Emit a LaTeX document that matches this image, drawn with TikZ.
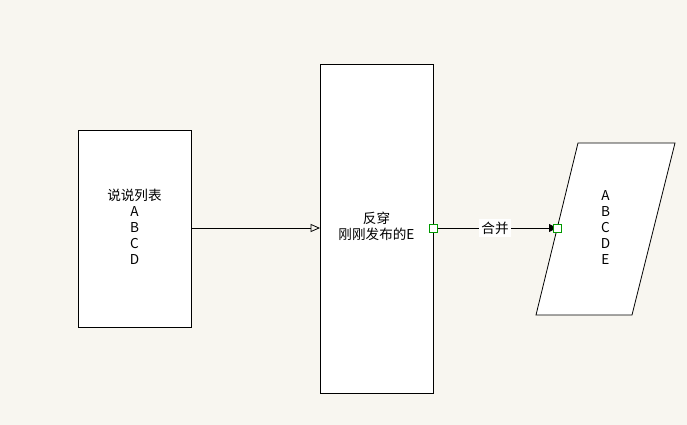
\documentclass[tikz,border=0pt]{standalone}
\usepackage{fontspec}
\setmainfont{Noto Sans CJK SC}
\usetikzlibrary{arrows.meta}
\begin{document}
\begin{tikzpicture}[x=0.75pt,y=-0.75pt,
  box/.style={draw,fill=white,line width=0.6pt},
  txt/.style={font=\fontsize{10.2}{12}\selectfont,align=center,inner sep=1pt},
  conn/.style={line width=0.6pt},
  handle/.style={draw=green!60!black,fill=white,line width=0.6pt,minimum size=6pt,inner sep=0pt}]
\fill[fill={rgb,255:red,248;green,246;blue,240}] (0,0) rectangle (687,425);
\useasboundingbox (0,0) rectangle (687,425);
\node[box,minimum width=84.75pt,minimum height=147.75pt] (a) at (134.5,228.5) {};
\node[txt] at (134.5,227) {说说列表\\A\\B\\C\\D};
\node[box,minimum width=84.75pt,minimum height=246.75pt] (b) at (376.5,228.5) {};
\node[txt] at (376.5,226) {反穿\\刚刚发布的E};
\draw[box] (578,143) coordinate (p1) -- (675,143) -- (632,315) -- (536,315) -- cycle;
\coordinate (c) at (605.5,228);
\node[txt] at (c) {A\\B\\C\\D\\E};
\coordinate (bin) at (320,228);
\coordinate (bout) at (433,228);
\coordinate (cin) at (557,228);
\draw[conn,-{Triangle[open,length=7pt,width=6pt]}] (a.east |- bin) -- (bin);
\draw[conn,-{Triangle[length=6pt,width=6pt]}] (bout) -- node[fill={rgb,255:red,255;green,255;blue,255},txt,inner sep=2pt]{合并} (cin);
\node[handle] (h1) at (bout) {};
\node[handle] (h2) at (cin) {};
\end{tikzpicture}
\end{document}
